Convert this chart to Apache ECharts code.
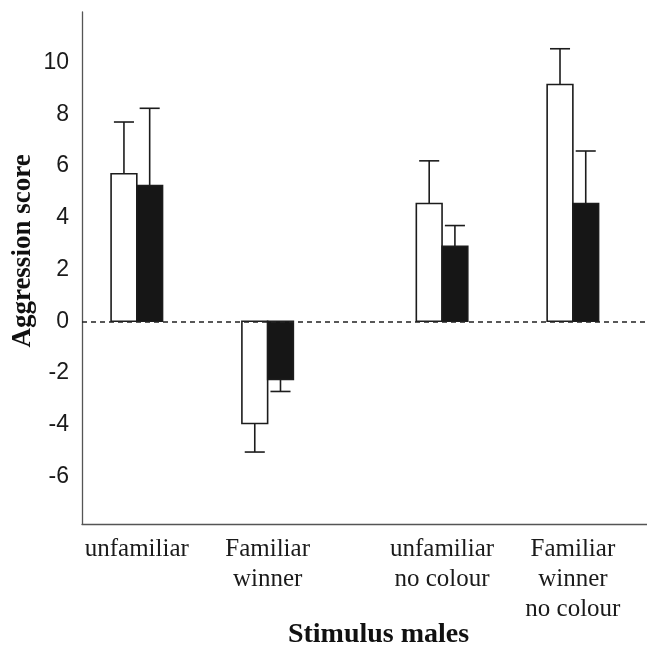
<!DOCTYPE html>
<html lang="en">
<head>
    <meta charset="UTF-8">
    <title>Aggression score</title>
    <script src="https://cdn.jsdelivr.net/npm/echarts@6.0.0/dist/echarts.min.js"></script>
    <style>
        html, body { margin: 0; padding: 0; background: #fff; }
        #main { width: 647px; height: 646px; }
    </style>
</head>
<body>
<div id="main"></div>
<script type="text/javascript">
    // 刺激雄鱼类别 和 各组的均值 / 误差
    const categories = ['unfamiliar', 'Familiar\nwinner', 'unfamiliar\nno colour', 'Familiar\nwinner\nno colour'];
    const groupPos = [0, 3, 7, 10];
    const whiteMeans = [5.7, -3.95, 4.55, 9.15];
    const whiteErrs = [2.0, 1.1, 1.65, 1.38];
    const blackMeans = [5.25, -2.25, 2.9, 4.55];
    const blackErrs = [2.98, 0.46, 0.8, 2.03];
    const yTickLabels = [-6, -4, -2, 0, 2, 4, 6, 8, 10];

    const barW = 0.59;   // bar width in x units
    const capW = 0.46;   // error cap width in x units
    const ink = '#1c1c1c';

    function makeRender(side, fill) {
        return function (params, api) {
            const x = api.value(0), y = api.value(1), e = api.value(2);
            const base = api.coord([x, 0]);
            const top = api.coord([x, y]);
            const end = api.coord([x, y + (y < 0 ? -e : e)]);
            const w = api.size([barW, 0])[0];
            const cw = api.size([capW, 0])[0];
            const cx = base[0] + side * w / 2;
            return {
                type: 'group',
                children: [
                    {
                        type: 'line',
                        shape: { x1: cx, y1: top[1], x2: cx, y2: end[1] },
                        style: { stroke: ink, lineWidth: 1.6 }
                    },
                    {
                        type: 'line',
                        shape: { x1: cx - cw / 2, y1: end[1], x2: cx + cw / 2, y2: end[1] },
                        style: { stroke: ink, lineWidth: 1.6 }
                    },
                    {
                        type: 'rect',
                        shape: { x: cx - w / 2, y: Math.min(base[1], top[1]), width: w, height: Math.abs(base[1] - top[1]) },
                        style: { fill: fill, stroke: ink, lineWidth: 1.6 }
                    }
                ]
            };
        };
    }

    const myChart = echarts.init(document.getElementById('main'));
    const option = {
        backgroundColor: '#fff',
        animation: false,
        grid: { left: 82, right: 0, top: 12, bottom: 122, containLabel: false, outerBoundsMode: 'none' },
        xAxis: {
            type: 'value',
            min: -1.257,
            max: 11.7,
            splitLine: { show: false },
            axisTick: { show: false },
            axisLine: { onZero: false, lineStyle: { color: '#555', width: 1.3 } },
            axisLabel: {
                customValues: groupPos,
                formatter: v => categories[groupPos.indexOf(v)] || '',
                margin: 10,
                fontFamily: 'Liberation Serif',
                fontSize: 25,
                lineHeight: 30,
                color: '#1a1a1a'
            },
            name: 'Stimulus males',
            nameLocation: 'middle',
            nameGap: 97,
            nameMoveOverlap: false,
            nameTextStyle: {
                fontFamily: 'Liberation Serif',
                fontWeight: 'bold',
                fontSize: 28,
                color: '#111',
                padding: [0, 0, 0, 28]
            }
        },
        yAxis: {
            type: 'value',
            min: -7.83,
            max: 11.95,
            minInterval: 2,
            maxInterval: 2,
            splitLine: { show: false },
            axisTick: { show: false },
            axisLine: { show: true, onZero: false, lineStyle: { color: '#555', width: 1.3 } },
            axisLabel: {
                formatter: v => yTickLabels.indexOf(v) >= 0 ? String(v) : '',
                margin: 13,
                fontFamily: 'Liberation Sans',
                fontSize: 23,
                color: '#1a1a1a'
            },
            name: 'Aggression score',
            nameLocation: 'middle',
            nameGap: 45,
            nameMoveOverlap: false,
            nameTextStyle: {
                fontFamily: 'Liberation Serif',
                fontWeight: 'bold',
                fontSize: 27,
                color: '#111',
                padding: [0, 0, 0, 34]
            }
        },
        series: [
            {
                name: 'white',
                type: 'custom',
                renderItem: makeRender(-1, '#fff'),
                data: groupPos.map((p, i) => [p, whiteMeans[i], whiteErrs[i]]),
                z: 3,
                markLine: {
                    silent: true,
                    symbol: 'none',
                    label: { show: false },
                    lineStyle: { color: '#222', width: 1.5, type: [5, 4] },
                    data: [{ yAxis: 0 }]
                }
            },
            {
                name: 'black',
                type: 'custom',
                renderItem: makeRender(1, '#161616'),
                data: groupPos.map((p, i) => [p, blackMeans[i], blackErrs[i]]),
                z: 3
            }
        ]
    };
    myChart.setOption(option);
</script>
</body>
</html>
